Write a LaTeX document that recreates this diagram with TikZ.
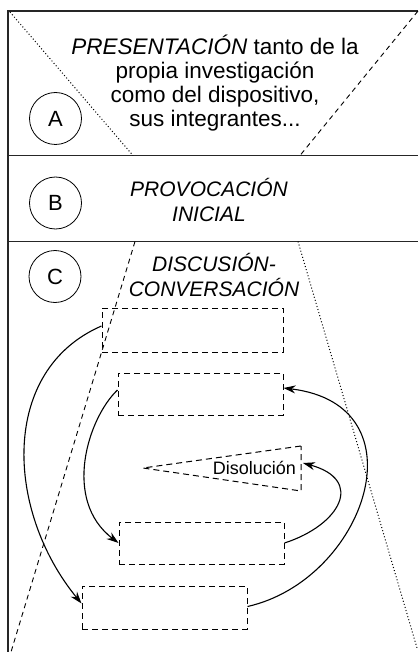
\documentclass[tikz,border=0pt]{standalone}
\usepackage{fontspec}
\setmainfont{Liberation Sans}
\usetikzlibrary{arrows.meta}

\begin{document}
\begin{tikzpicture}[x=1pt,y=-1pt,>={Stealth[length=12pt,width=8pt]}]
  \tikzset{
    circ/.style={draw,circle,line width=0.8pt,minimum size=52pt,inner sep=0pt,font=\fontsize{22}{24}\selectfont},
    txt/.style={align=center,inner sep=0pt,font=\fontsize{21}{25}\selectfont\itshape},
    dbox/.style={draw,line width=1pt,dash pattern=on 6pt off 4pt,inner sep=0pt,minimum width=165pt,minimum height=42pt},
    rule/.style={line width=1.1pt,black!85},
    fine dash/.style={line width=0.9pt,dash pattern=on 5pt off 4pt},
    fine dot/.style={line width=1pt,dash pattern=on 1pt off 2.2pt},
    flow/.style={->,line width=1.1pt},
  }
  \useasboundingbox (0,0) rectangle (418,652);
  % frame and sections
  \draw[rule] (8,652) -- (8,11) -- (418,11);
  \draw[rule] (8,155.5) -- (418,155.5);
  \draw[rule] (8,241.5) -- (418,241.5);
  % funnels
  \draw[fine dot] (10,12) -- (133,155.5);
  \draw[fine dash] (418,11) -- (300,155.5);
  \draw[fine dash] (135,241.5) -- (11,652);
  \draw[fine dot] (298,241.5) -- (417,648);
  % stages
  \node[circ] (A) at (55.5,118.5) {A};
  \node[circ] (B) at (55.5,203) {B};
  \node[circ] (C) at (55,276.5) {C};
  \node[txt,font=\fontsize{22.5}{24.2}\selectfont] (pres) at (215,83) {\textit{PRESENTACIÓN} tanto de la\\propia investigación\\como del dispositivo,\\sus integrantes...};
  \node[txt] (prov) at (209,200) {PROVOCACIÓN\\INICIAL};
  \node[txt] (disc) at (214,275) {DISCUSIÓN-\\CONVERSACIÓN};
  \node[dbox,minimum width=181pt,minimum height=44pt] (r1) at (192.5,330) {};
  \node[dbox] (r2) at (200.5,394) {};
  \node[dbox] (r3) at (201.5,543) {};
  \node[dbox,minimum height=43pt] (r4) at (164.5,607.5) {};
  % dissolution
  \coordinate (apex) at (143,468);
  \coordinate (ttop) at (301,446);
  \coordinate (tbot) at (301,491);
  \coordinate (tin) at (303,463);
  \draw[line width=1pt,dash pattern=on 6pt off 4pt] (ttop) -- (apex) -- (tbot) -- cycle;
  \node[inner sep=0pt,anchor=base east,font=\fontsize{18}{20}\selectfont] (diso) at (296,474) {Disolución};
  % movements
  \draw[flow] ([yshift=4pt]r1.west) .. controls (0,370) and (5,510) .. ([yshift=4pt]r4.west);
  \draw[flow] ([yshift=4pt]r2.west) .. controls (88,418) and (62,500) .. (r3.west);
  \draw[flow] (r3.east) .. controls (340,525) and (365,480) .. (tin);
  \draw[flow] ([yshift=1pt]r4.east) .. controls (365,580) and (425,405) .. ([yshift=6pt]r2.east);
\end{tikzpicture}
\end{document}
